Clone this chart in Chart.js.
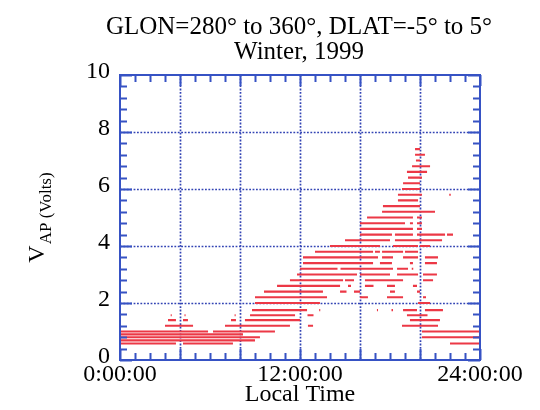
<!DOCTYPE html>
<html>
<head>
<meta charset="utf-8">
<script src="https://cdn.jsdelivr.net/npm/chart.js@4/dist/chart.umd.min.js"></script>
<style>
  html, body { margin: 0; padding: 0; background: #ffffff; }
  #wrap { width: 540px; height: 410px; }
</style>
</head>
<body>
<div id="wrap"><canvas id="c" width="540" height="410"></canvas></div>
<script>
// Title and axis text
const titleLines = ['GLON=280\u00B0 to 360\u00B0, DLAT=-5\u00B0 to 5\u00B0', 'Winter, 1999'];
const xTitle = 'Local Time';
const yTitleMain = 'V';
const yTitleSub = 'AP (Volts)';

// Labelled local-time ticks (hours) and their text
const timeTickHours = [0, 12, 24];
const timeTickLabels = ['0:00:00', '12:00:00', '24:00:00'];

// Grid and tick-mark positions
const timeGridHours = [4, 8, 12, 16, 20];
const voltGrid = [2, 4, 6, 8];
const timeMinorHours = [0,1,2,3,4,5,6,7,8,9,10,11,12,13,14,15,16,17,18,19,20,21,22,23,24];
const voltMinor = [0,0.4,0.8,1.2,1.6,2,2.4,2.8,3.2,3.6,4,4.4,4.8,5.2,5.6,6,6.4,6.8,7.2,7.6,8,8.4,8.8,9.2,9.6,10];

// Measured potential levels (V) and the local-time runs (hours) seen at each level
const levels = [0.58, 0.69, 0.80, 0.90, 1.00, 1.20, 1.40, 1.57, 1.75, 2.00,
                2.20, 2.40, 2.60, 2.80, 3.00, 3.20, 3.40, 3.60, 3.80, 4.00,
                4.20, 4.40, 4.60, 4.80, 5.00, 5.20, 5.40, 5.60, 5.80, 6.00,
                6.20, 6.40, 6.60, 6.80, 7.00, 7.20, 7.40];
const runs = [
  [[0,3.73],[4.2,7.53],[22,24]],
  [[0,9.0]],
  [[0,9.33],[20.13,24]],
  [[0,8.2]],
  [[0,5.87],[6.2,10.33],[20.13,24]],
  [[3.0,4.87],[7.0,11.33],[12.53,12.87],[18.8,21.2]],
  [[3.2,3.73],[4.2,4.53],[7.4,7.73],[8.33,12.0],[19.33,21.33]],
  [[3.38,3.45],[4.3,4.37],[7.64,7.71],[8.67,11.67],[12.5,12.9],[19.13,20.5]],
  [[8.8,12.47],[13.28,13.35],[17.13,17.2],[18.1,18.2],[18.87,19.8],[20.33,21.53]],
  [[9.0,13.33],[19.87,20.67]],
  [[9.0,13.8],[16.0,16.53],[17.8,18.87],[20.2,20.4]],
  [[9.6,13.53],[14.67,15.1],[15.6,16.0],[18.0,18.33],[19.8,20.0]],
  [[10.47,14.67],[15.2,15.4],[16.33,16.9],[17.8,18.33],[19.53,19.8]],
  [[11.33,14.87],[15.0,15.6],[16.33,18.87],[20.2,20.87]],
  [[11.8,15.8],[16.0,18.0],[18.47,19.87],[20.2,21.13]],
  [[12.0,14.5],[14.7,18.2],[18.47,19.2],[19.45,19.55]],
  [[12.2,16.87],[17.33,18.13],[19.33,19.53],[20.33,21.13]],
  [[12.2,17.2],[17.47,18.2],[18.87,19.87],[20.33,21.2]],
  [[13.0,16.87],[17.0,17.33],[17.47,18.87],[19.0,19.87]],
  [[14.0,17.33],[18.2,19.87],[20.0,20.67]],
  [[15.0,18.0],[18.33,21.47]],
  [[16.0,18.13],[18.33,19.53],[19.8,21.67],[21.8,22.2]],
  [[16.0,19.53],[19.8,20.13]],
  [[16.0,19.0],[19.33,19.53],[19.8,20.13]],
  [[16.47,19.53],[19.8,20.13]],
  [[17.47,21.0]],
  [[17.53,20.0]],
  [[18.53,19.87]],
  [[18.53,20.13],[21.95,22.05]],
  [[18.8,20.0]],
  [[18.87,20.0]],
  [[19.2,20.13]],
  [[19.13,20.47]],
  [[19.47,20.67]],
  [[19.73,20.0]],
  [[19.67,20.33]],
  [[19.67,20.0]]
];

const FONT = '"Liberation Serif"';
const AXIS_BLUE = '#3652c4';
const GRID_BLUE = '#3344b4';
const DOT_RED = 'rgb(236,56,70)';

// Each run becomes a horizontal stroke; a null point breaks the line between runs
const points = [];
levels.forEach((v, i) => {
  runs[i].forEach(([h0, h1]) => {
    points.push({ x: h0, y: v }, { x: h1, y: v }, { x: h1, y: null });
  });
});

// Dotted grid underneath the data, then box, inward ticks, titles on top
const boxDecor = {
  id: 'boxDecor',
  beforeDatasetsDraw(chart) {
    const { ctx, chartArea: a, scales: { x, y } } = chart;
    ctx.save();
    ctx.strokeStyle = GRID_BLUE;
    ctx.lineWidth = 1.7;
    ctx.setLineDash([1.8, 1.6]);
    ctx.beginPath();
    timeGridHours.forEach(h => {
      const px = Math.round(x.getPixelForValue(h)) + 0.5;
      ctx.moveTo(px, a.top); ctx.lineTo(px, a.bottom);
    });
    voltGrid.forEach(v => {
      const py = Math.round(y.getPixelForValue(v)) + 0.5;
      ctx.moveTo(a.left, py); ctx.lineTo(a.right, py);
    });
    ctx.stroke();
    ctx.restore();
  },
  afterDatasetsDraw(chart) {
    const { ctx, chartArea: a, scales: { x, y } } = chart;
    ctx.save();
    ctx.strokeStyle = AXIS_BLUE;
    ctx.lineWidth = 2;
    ctx.beginPath();
    timeMinorHours.forEach(h => {
      const len = (h % 4 === 0) ? 11 : 7;
      const px = Math.round(x.getPixelForValue(h)) + 0.5;
      ctx.moveTo(px, a.bottom); ctx.lineTo(px, a.bottom - len);
      ctx.moveTo(px, a.top); ctx.lineTo(px, a.top + len);
    });
    voltMinor.forEach(v => {
      const major = Math.abs(v / 2 - Math.round(v / 2)) < 1e-6;
      const len = major ? 12 : 7;
      const py = Math.round(y.getPixelForValue(v)) + 0.5;
      ctx.moveTo(a.left, py); ctx.lineTo(a.left + len, py);
      ctx.moveTo(a.right, py); ctx.lineTo(a.right - len, py);
    });
    ctx.stroke();
    ctx.strokeRect(a.left, a.top, a.right - a.left, a.bottom - a.top);
    ctx.restore();

    // two-line title centred over the plot box
    ctx.save();
    ctx.fillStyle = '#000';
    ctx.textAlign = 'center';
    ctx.textBaseline = 'alphabetic';
    ctx.font = '25px ' + FONT;
    const cx = (a.left + a.right) / 2 - 1;
    ctx.fillText(titleLines[0], cx, 34);
    ctx.fillText(titleLines[1], cx, 59);
    ctx.restore();

    // y-axis title with subscript
    ctx.save();
    ctx.translate(44, (a.top + a.bottom) / 2);
    ctx.rotate(-Math.PI / 2);
    ctx.fillStyle = '#000';
    ctx.textBaseline = 'alphabetic';
    ctx.textAlign = 'left';
    ctx.font = '24px ' + FONT;
    const wMain = ctx.measureText(yTitleMain).width;
    ctx.font = '17px ' + FONT;
    const wSub = ctx.measureText(yTitleSub).width;
    const start = -(wMain + wSub + 1) / 2;
    ctx.font = '24px ' + FONT;
    ctx.fillText(yTitleMain, start, 0);
    ctx.font = '17px ' + FONT;
    ctx.fillText(yTitleSub, start + wMain + 1, 7);
    ctx.restore();
  }
};

Chart.defaults.font.family = FONT;
Chart.defaults.color = '#000';

function build() {
  new Chart(document.getElementById('c'), {
    type: 'scatter',
    data: {
      datasets: [{
        data: points,
        showLine: true,
        spanGaps: false,
        borderColor: DOT_RED,
        borderWidth: 2.1,
        pointRadius: 0,
        pointHoverRadius: 0
      }]
    },
    options: {
      responsive: false,
      animation: false,
      events: [],
      layout: { padding: { left: 0, right: 60, top: 75, bottom: 0 } },
      plugins: {
        legend: { display: false },
        tooltip: { enabled: false },
        title: { display: false }
      },
      scales: {
        x: {
          type: 'linear',
          position: 'bottom',
          min: 0,
          max: 24,
          afterBuildTicks(scale) { scale.ticks = timeTickHours.map(v => ({ value: v })); },
          afterFit(scale) { scale.height = 50; },
          ticks: {
            autoSkip: false,
            maxRotation: 0,
            padding: 0,
            color: '#000',
            font: { family: FONT, size: 24 },
            callback: (v) => timeTickLabels[timeTickHours.indexOf(v)]
          },
          grid: { display: false, drawTicks: false },
          border: { display: false },
          title: {
            display: true,
            text: xTitle,
            color: '#000',
            font: { family: FONT, size: 24 },
            padding: { top: 0, bottom: 1 }
          }
        },
        y: {
          type: 'linear',
          min: 0,
          max: 10,
          afterFit(scale) { scale.width = 120; },
          ticks: {
            stepSize: 2,
            padding: 10,
            labelOffset: -3,
            color: '#000',
            font: { family: FONT, size: 24 }
          },
          grid: { display: false, drawTicks: false },
          border: { display: false }
        }
      }
    },
    plugins: [boxDecor]
  });
}

if (document.fonts && document.fonts.load) {
  Promise.all([
    document.fonts.load('24px "Liberation Serif"'),
    document.fonts.load('17px "Liberation Serif"')
  ]).then(build, build);
} else {
  build();
}
</script>
</body>
</html>
